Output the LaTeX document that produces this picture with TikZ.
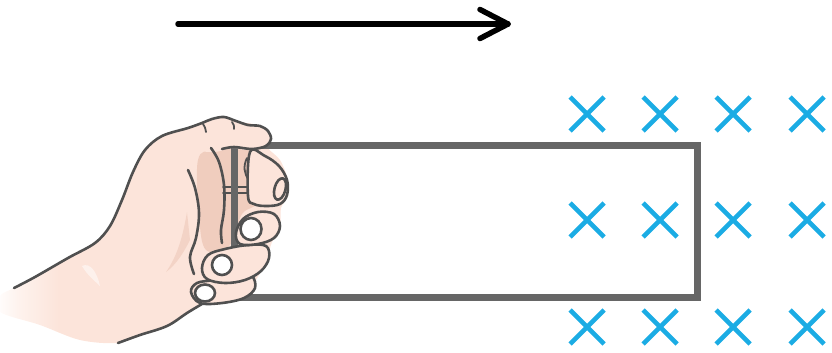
\documentclass[tikz,border=0pt]{standalone}
\usetikzlibrary{shapes.misc}

\definecolor{skin}{RGB}{252,228,218}
\definecolor{skinfaint}{RGB}{254,243,238}
\definecolor{skinshade}{RGB}{240,205,190}
\definecolor{inkline}{RGB}{80,80,80}
\definecolor{framegray}{RGB}{102,102,102}
\definecolor{fieldblue}{RGB}{27,172,228}

% skin tone that fades to white towards the cut-off end of the arm
\pgfdeclarehorizontalshading{armfade}{100bp}{color(0bp)=(white); color(25bp)=(white); color(29bp)=(skinfaint); color(36bp)=(skin); color(100bp)=(skin)}

\tikzset{
  handline/.style={draw=inkline, line width=2.6pt, line cap=round, line join=round},
  crease/.style={draw=inkline, line width=1.8pt, line cap=round},
  fingertip/.style={fill=skin, handline},
  nail/.style={fill=white, handline},
  framewire/.style={draw=framegray, line width=7pt, line join=miter},
  fieldx/.style={cross out, draw=fieldblue, line width=4.6pt, minimum size=34pt, inner sep=0pt, outer sep=0pt},
  motion/.style={draw=black, line width=5.5pt, line cap=round, line join=round},
}

\begin{document}
\begin{tikzpicture}[x=1pt,y=-1pt]
\useasboundingbox (0,0) rectangle (832,353);

% direction of motion
\coordinate (arrowtail) at (178,24);
\coordinate (arrowhead) at (508,24);
\draw[motion] (arrowtail) -- (arrowhead);
\draw[motion] (arrowhead) ++(-28,-14.5) -- (arrowhead) -- ++(-28,14.5);

% magnetic field into the page
\foreach \cx [count=\i] in {587,660,733,807}
  \foreach \cy [count=\j] in {114,220,327}
    \node[fieldx] (field-\j-\i) at (\cx,\cy) {};

% hand: base silhouette
\shade[shading=armfade] plot[smooth cycle, tension=0.55] coordinates {
  (0,296) (14,288) (35,277) (68,258) (95,243) (110,226) (122,200) (133,172)
  (145,150) (162,136) (188,128) (205,121) (222,117) (240,122) (258,125)
  (267,130) (271,139) (268,148) (280,160) (288,180) (288,196) (281,208)
  (280,226) (272,242) (268,255) (262,270) (255,282) (254,292) (244,299)
  (220,304) (202,304) (187,313) (167,326) (140,335) (118,343) (80,340)
  (40,325) (0,312)};

% shadowed palm
\fill[skinshade] plot[smooth cycle, tension=0.6] coordinates {
  (198,160) (214,150) (245,150) (262,158) (260,200) (242,214) (230,245)
  (206,250) (199,215)};
\fill[skinshade, opacity=0.7] (187,212) .. controls (183,235) and (178,255) .. (166,272)
  .. controls (176,265) and (184,252) .. (190,240) -- cycle;
\fill[white, opacity=0.5] (82,266) .. controls (90,262) and (97,272) .. (100,286)
  .. controls (94,280) and (88,276) .. (82,266) -- cycle;

% finger creases behind the wire
\draw[crease] (223,187) -- (249,187);
\draw[crease] (223,193) -- (249,193);

% wire loop
\coordinate (frame-nw) at (234,145);
\coordinate (frame-se) at (697,297);
\draw[framewire] (frame-nw) rectangle (frame-se);

% upper finger lying over the wire
\fill[skin] plot[smooth cycle, tension=0.55] coordinates {
  (180,140) (190,128) (205,121) (222,117) (240,122) (258,125) (267,130)
  (271,139) (266,146) (250,150) (232,148) (215,152) (198,150)};

% back of the hand and upper finger outline
\draw[handline] plot[smooth, tension=0.55] coordinates {
  (14,288) (35,277) (68,258) (95,243) (110,226) (122,200) (133,172)
  (145,150) (162,136) (188,128) (202,123) (212,119) (224,117) (236,121)
  (248,125) (260,126) (268,131) (271,139) (266,146) (252,149) (234,147)
  (222,149)};
\draw[crease] (203,124) .. controls (205,127) .. (206,132);
\draw[crease] (232,122) .. controls (234,125) .. (234,129);

% inner lines of the palm
\draw[handline] plot[smooth, tension=0.6] coordinates {
  (211,148) (219,162) (224,185) (224,210) (221,230) (222,243)};
\draw[handline] plot[smooth, tension=0.6] coordinates {
  (188,170) (195,188) (199,213) (196,238) (190,257) (194,274)};
\draw[crease] (247,158) .. controls (243,166) and (244,174) .. (249,180);
\draw[crease] (257,160) .. controls (253,168) and (253,176) .. (258,182);

% curled fingers, lowest first
\draw[fingertip] plot[smooth cycle, tension=0.6] coordinates {
  (191,292) (197,283) (214,280) (240,275) (252,276) (255,288) (244,298)
  (222,303) (200,303)};
\draw[nail] (205,293) ellipse [x radius=10, y radius=8.5];

\draw[fingertip] plot[smooth cycle, tension=0.6] coordinates {
  (202,268) (208,255) (225,249) (248,245) (266,246) (269,258) (261,271)
  (245,280) (225,283) (207,279)};
\draw[nail] (222,265) ellipse [x radius=10, y radius=10];

\draw[fingertip] plot[smooth cycle, tension=0.6] coordinates {
  (236,233) (243,219) (258,212) (274,214) (280,226) (274,238) (258,244)
  (240,244)};
\draw[nail] (251,229) ellipse [x radius=10.5, y radius=11];

\draw[fingertip] plot[smooth cycle, tension=0.6] coordinates {
  (250,152) (265,156) (279,166) (287,180) (287,195) (280,204) (266,206)
  (254,204) (248,196)};
\draw[handline, fill=skin] (280,189) ellipse [x radius=5.5, y radius=11, rotate=-15];

% underside of the hand
\draw[handline] plot[smooth, tension=0.6] coordinates {
  (202,304) (187,313) (167,326) (140,335) (118,343)};
\end{tikzpicture}
\end{document}
